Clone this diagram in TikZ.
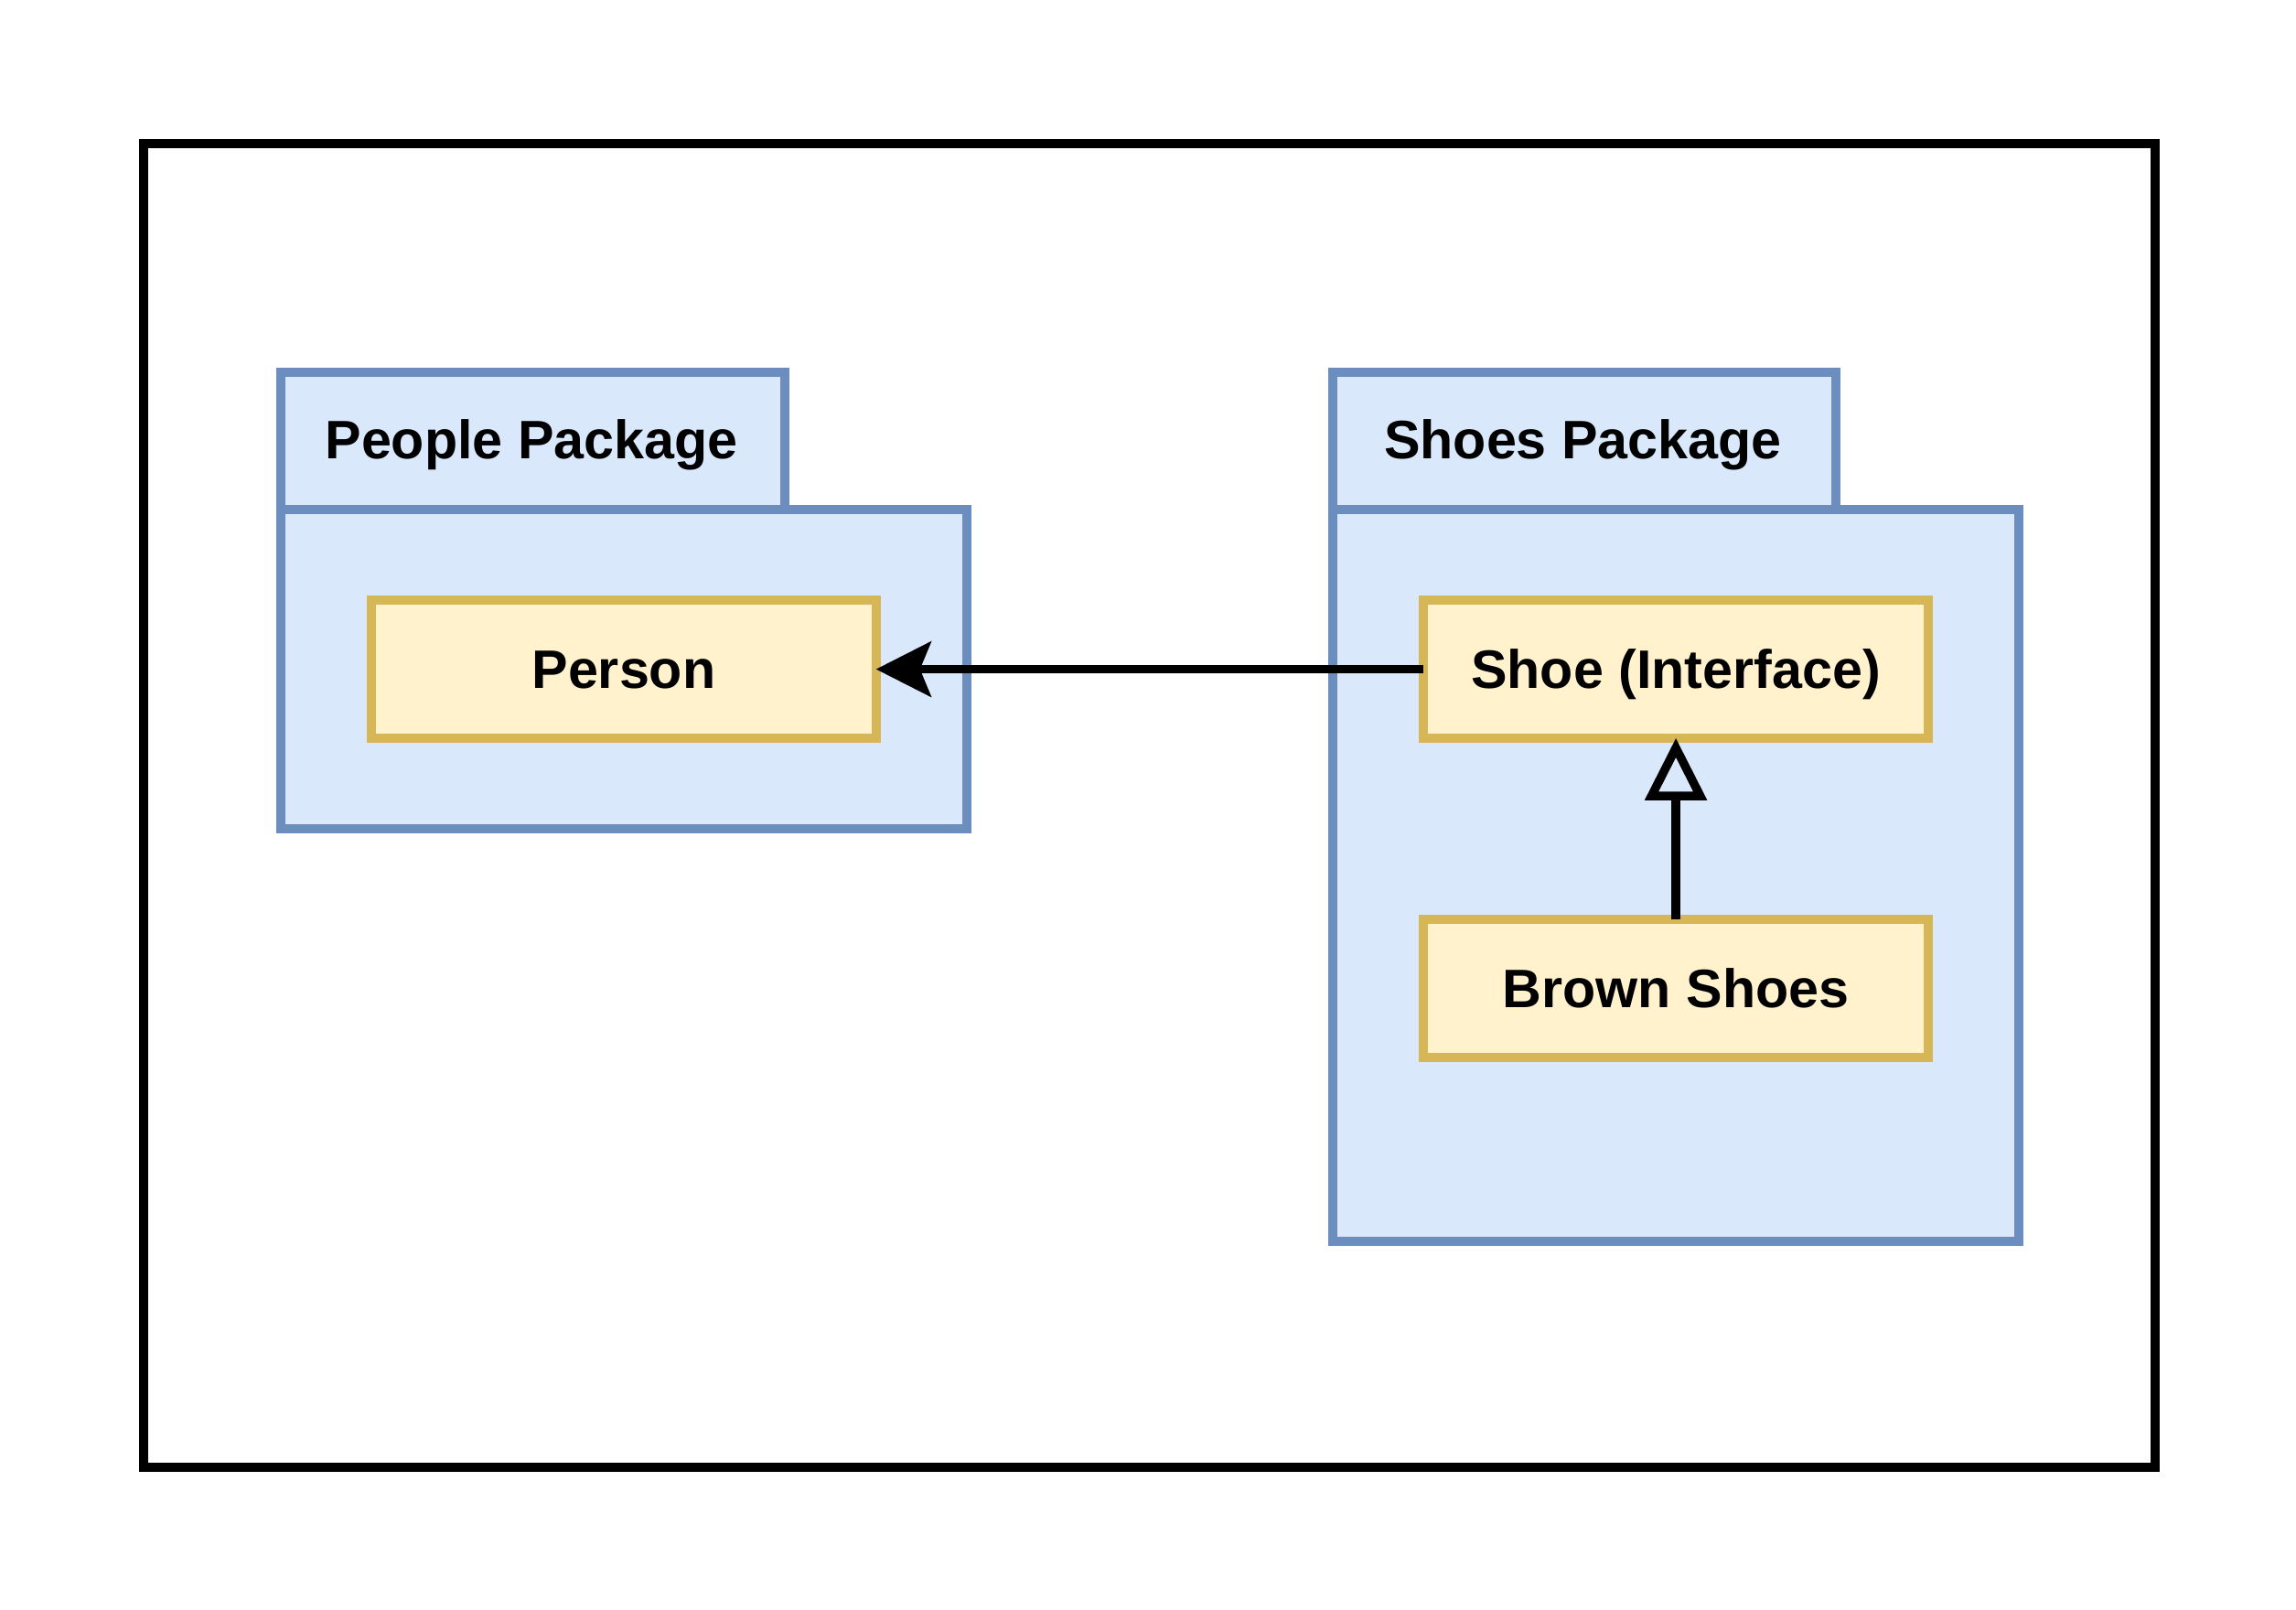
\documentclass[tikz,border=0pt]{standalone}
\usepackage{fontspec}
\setmainfont{Liberation Sans}
\usetikzlibrary{arrows.meta}
\definecolor{pkgfill}{HTML}{DAE8FC}
\definecolor{pkgdraw}{HTML}{6C8EBF}
\definecolor{clsfill}{HTML}{FFF2CC}
\definecolor{clsdraw}{HTML}{D6B656}
\begin{document}
\begin{tikzpicture}[x=0.8pt,y=-0.8pt,
  txt/.style={font=\fontsize{29.6}{34}\selectfont\bfseries, inner sep=0pt,
    text height=21.2pt, text depth=0pt},
  pkg/.style={draw=pkgdraw, fill=pkgfill, line width=5pt},
  cls/.style={draw=clsdraw, fill=clsfill, line width=5pt, minimum width=275.6pt,
    minimum height=75.2pt, inner sep=0pt, outer sep=0pt, txt},
  assoc/.style={line width=4.7pt, -{Stealth[length=30pt,width=30pt,inset=6pt]}},
  inherit/.style={line width=4.7pt, -{Triangle[open,length=34pt,width=33pt]}}]
\useasboundingbox (0,0) rectangle (1568,1099);
\draw[line width=5pt] (98,98) rectangle (1472,1002);
% People package
\draw[pkg] (192,348) rectangle (660,566);
\draw[pkg] (192,254) rectangle (536,348);
\node[txt] (pplpkg) at (363,300) {People Package};
% Shoes package
\draw[pkg] (910,348) rectangle (1379,848);
\draw[pkg] (910,254) rectangle (1254,348);
\node[txt] (shoespkg) at (1081,300) {Shoes Package};
% classes
\node[cls] (person) at (426,457) {Person};
\node[cls] (shoe) at (1144.5,457) {Shoe (Interface)};
\node[cls] (brown) at (1144.5,675) {Brown Shoes};
% connectors
\draw[assoc] (shoe.west) -- (person.east);
\draw[inherit] (brown.north) -- (shoe.south);
\end{tikzpicture}
\end{document}
